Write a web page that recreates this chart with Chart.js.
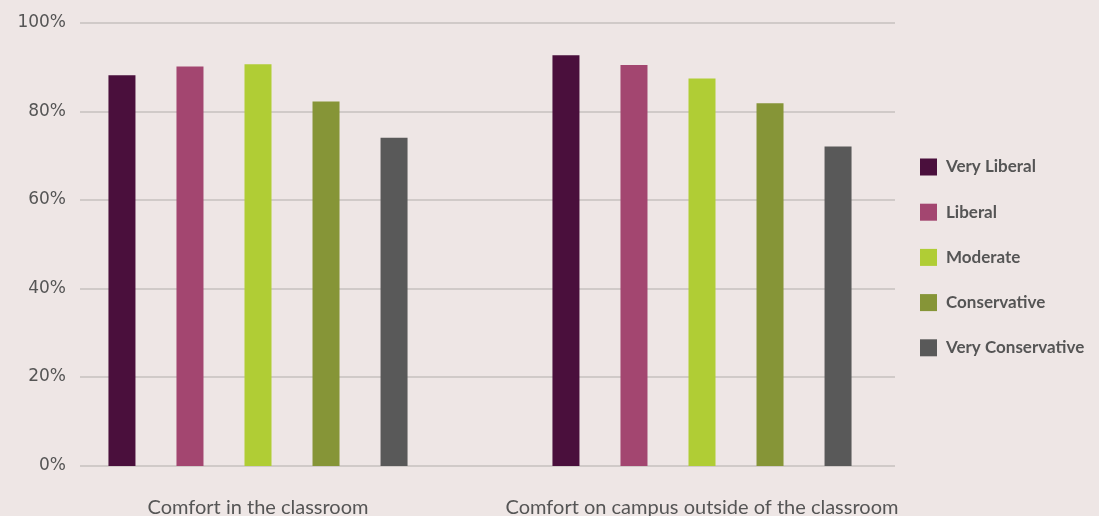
<!DOCTYPE html>
<html>
<head>
<meta charset="utf-8">
<script src="https://cdn.jsdelivr.net/npm/chart.js@4"></script>
<style>
  html, body { margin: 0; padding: 0; background: #eee6e5; }
  #wrap { position: relative; width: 1099px; height: 516px; }
</style>
</head>
<body>
<div id="wrap"><canvas id="chart"></canvas></div>
<script>
// categories and series
var categories = ['Comfort in the classroom', 'Comfort on campus outside of the classroom'];
var seriesNames = ['Very Liberal', 'Liberal', 'Moderate', 'Conservative', 'Very Conservative'];
var veryLiberal = [88.2, 92.7];
var liberal = [90.2, 90.5];
var moderate = [90.7, 87.5];
var conservative = [82.3, 81.9];
var veryConservative = [74.1, 72.1];
var yTicks = [0, 20, 40, 60, 80, 100];

var colours = ['#4a0f3c', '#a34670', '#b0cd35', '#869537', '#595959'];
var seriesValues = [veryLiberal, liberal, moderate, conservative, veryConservative];

var textColour = '#555555';
var gridColour = '#d0cac8';

// grid lines + y labels, drawn off the y scale (grid stops short of the chart area)
var gridPlugin = {
    id: 'shortGrid',
    beforeDatasetsDraw: function (chart) {
        var ctx = chart.ctx;
        var y = chart.scales.y;
        ctx.save();
        ctx.strokeStyle = gridColour;
        ctx.lineWidth = 2;
        ctx.fillStyle = textColour;
        ctx.font = '17px "DejaVu Sans"';
        ctx.textAlign = 'right';
        ctx.textBaseline = 'middle';
        yTicks.forEach(function (v) {
            var py = Math.round(y.getPixelForValue(v));
            ctx.beginPath();
            ctx.moveTo(80, py);
            ctx.lineTo(895, py);
            ctx.stroke();
            ctx.fillText(v + '%', 66, py);
        });
        ctx.restore();
    }
};

// legend on the right
var legendPlugin = {
    id: 'sideLegend',
    afterDraw: function (chart) {
        var ctx = chart.ctx;
        ctx.save();
        ctx.font = 'bold 17px Lato';
        ctx.textAlign = 'left';
        ctx.textBaseline = 'middle';
        chart.data.datasets.forEach(function (ds, i) {
            var cy = 167 + i * 45.2;
            ctx.fillStyle = ds.backgroundColor;
            ctx.fillRect(920, cy - 8.5, 17, 17);
            ctx.fillStyle = textColour;
            ctx.fillText(ds.label, 946, cy);
        });
        ctx.restore();
    }
};

var ctx = document.getElementById('chart').getContext('2d');
var myChart = new Chart(ctx, {
    type: 'bar',
    data: {
        labels: categories,
        datasets: seriesNames.map(function (name, i) {
            return {
                label: name,
                data: seriesValues[i],
                backgroundColor: colours[i],
                borderWidth: 0,
                categoryPercentage: 0.766,
                barPercentage: 0.397
            };
        })
    },
    options: {
        responsive: true,
        maintainAspectRatio: false,
        animation: false,
        layout: {
            padding: { left: 36, right: 175, top: 23, bottom: -34 }
        },
        plugins: {
            legend: { display: false },
            tooltip: { enabled: false }
        },
        scales: {
            x: {
                grid: { display: false, drawTicks: false },
                border: { display: false },
                ticks: {
                    color: textColour,
                    font: { family: 'Lato', size: 20 },
                    padding: 30,
                    maxRotation: 0
                }
            },
            y: {
                display: false,
                min: 0,
                max: 100
            }
        }
    },
    plugins: [gridPlugin, legendPlugin]
});
</script>
</body>
</html>
